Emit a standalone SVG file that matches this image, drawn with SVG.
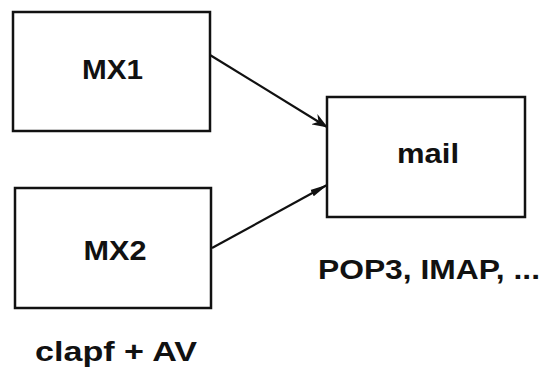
<svg xmlns="http://www.w3.org/2000/svg" width="554" height="374" viewBox="0 0 554 374">
  <style>
    .box { fill: #ffffff; stroke: #111111; stroke-width: 2.5; }
    .lbl { font-family: "Liberation Sans", Arial, sans-serif; font-weight: bold; font-size: 27px; fill: #111111; text-anchor: middle; }
    .edge { fill: none; stroke: #111111; stroke-width: 2.2; }
  </style>
  <defs>
    <marker id="barb" viewBox="0 0 16 12" refX="15" refY="6" markerWidth="16" markerHeight="12" markerUnits="userSpaceOnUse" orient="auto">
      <path d="M0,0 L16,6 L0,12 L5,6 Z" fill="#111111"/>
    </marker>
    <marker id="slim" viewBox="0 0 18 8" refX="17" refY="4" markerWidth="18" markerHeight="8" markerUnits="userSpaceOnUse" orient="auto">
      <path d="M0,0.5 L18,4 L0,7.5 Z" fill="#111111"/>
    </marker>
  </defs>
  <rect width="554" height="374" fill="#ffffff"/>

  <g id="connectors">
    <line class="edge" x1="210" y1="55" x2="327" y2="127" marker-end="url(#barb)"/>
    <line class="edge" x1="212" y1="248" x2="327" y2="185" marker-end="url(#slim)"/>
  </g>

  <g id="mx1">
    <rect class="box" x="13" y="12" width="197" height="119"/>
    <text class="lbl" x="112.5" y="79" textLength="61" lengthAdjust="spacingAndGlyphs">MX1</text>
  </g>

  <g id="mx2">
    <rect class="box" x="15" y="188" width="196" height="120"/>
    <text class="lbl" x="115" y="260" textLength="63" lengthAdjust="spacingAndGlyphs">MX2</text>
    <text class="lbl" x="116" y="361" textLength="162" lengthAdjust="spacingAndGlyphs">clapf + AV</text>
  </g>

  <g id="mail">
    <rect class="box" x="327" y="97" width="198" height="120"/>
    <text class="lbl" x="428" y="163" textLength="62" lengthAdjust="spacingAndGlyphs">mail</text>
    <text class="lbl" x="429" y="279" textLength="222" lengthAdjust="spacingAndGlyphs">POP3, IMAP, ...</text>
  </g>
</svg>
